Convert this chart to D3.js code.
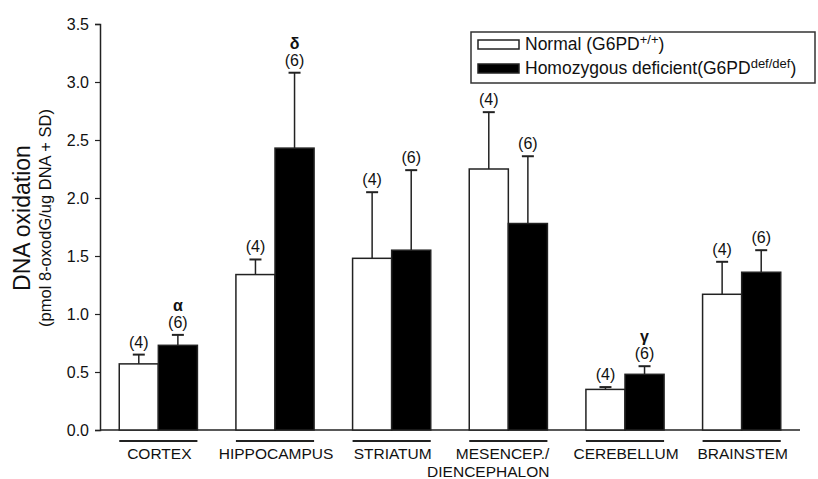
<!DOCTYPE html>
<html>
<head>
<meta charset="utf-8">
<script src="https://cdn.jsdelivr.net/npm/d3@7"></script>
<style>
  body { margin: 0; background: #fff; }
  svg text { font-family: "Liberation Sans", Arial, sans-serif; fill: #111; }
</style>
</head>
<body>
<svg id="chart" width="818" height="479"></svg>
<script>
// Data
const regions = ["CORTEX", "HIPPOCAMPUS", "STRIATUM", "MESENCEP./\nDIENCEPHALON", "CEREBELLUM", "BRAINSTEM"];
const normalMean = [0.57, 1.34, 1.48, 2.25, 0.35, 1.17];
const normalSD   = [0.08, 0.13, 0.57, 0.49, 0.02, 0.28];
const defMean    = [0.73, 2.43, 1.55, 1.78, 0.48, 1.36];
const defSD      = [0.09, 0.65, 0.69, 0.58, 0.07, 0.19];
const normalN    = ["(4)", "(4)", "(4)", "(4)", "(4)", "(4)"];
const defN       = ["(6)", "(6)", "(6)", "(6)", "(6)", "(6)"];
const signif     = ["α", "δ", "", "", "γ", ""];
const yTicks     = [0, 0.5, 1.0, 1.5, 2.0, 2.5, 3.0, 3.5];

const svg = d3.select("#chart");
const plotLeft = 100, plotRight = 800, plotTop = 24, plotBottom = 430;

const x = d3.scaleBand().domain(regions).range([plotLeft, plotRight])
    .paddingInner(0.33).paddingOuter(0.165);
const xs = d3.scaleBand().domain(["normal", "def"]).range([0, x.bandwidth()]);
const y = d3.scaleLinear().domain([0, 3.5]).range([plotBottom, plotTop]);

// y axis
const yAxis = svg.append("g")
    .attr("transform", `translate(${plotLeft},0)`)
    .call(d3.axisLeft(y).tickValues(yTicks).tickFormat(d3.format(".1f")).tickSizeOuter(0).tickSize(5));
yAxis.select(".domain").attr("stroke", "#222").attr("stroke-width", 1.5);
yAxis.selectAll(".tick line").attr("stroke", "#222").attr("stroke-width", 1.2);
yAxis.selectAll(".tick text")
    .attr("x", -11)
    .style("font-size", "16px")
    .style("font-family", "Liberation Sans, Arial, sans-serif")
    .attr("fill", "#111");

// x baseline
svg.append("line")
    .attr("x1", plotLeft).attr("x2", plotRight)
    .attr("y1", y(0)).attr("y2", y(0))
    .attr("stroke", "#222").attr("stroke-width", 1.5);

// y titles
svg.append("text")
    .attr("transform", "translate(30,218) rotate(-90)")
    .attr("text-anchor", "middle")
    .style("font-size", "23px")
    .text("DNA oxidation");
svg.append("text")
    .attr("transform", "translate(51,218) rotate(-90)")
    .attr("text-anchor", "middle")
    .style("font-size", "16.5px")
    .text("(pmol 8-oxodG/ug DNA + SD)");

// rows for bars
const rows = [];
regions.forEach((r, i) => {
    rows.push({ region: r, key: "normal", mean: normalMean[i], sd: normalSD[i], n: normalN[i], sig: "" });
    rows.push({ region: r, key: "def", mean: defMean[i], sd: defSD[i], n: defN[i], sig: signif[i] });
});

const bx = d => x(d.region) + xs(d.key);
const bw = xs.bandwidth();

// error bars (upper only)
svg.selectAll(".err").data(rows).join("line")
    .attr("x1", d => bx(d) + bw / 2).attr("x2", d => bx(d) + bw / 2)
    .attr("y1", d => y(d.mean)).attr("y2", d => y(d.mean + d.sd))
    .attr("stroke", "#222").attr("stroke-width", 1.5);
svg.selectAll(".cap").data(rows).join("line")
    .attr("x1", d => bx(d) + bw / 2 - 6).attr("x2", d => bx(d) + bw / 2 + 6)
    .attr("y1", d => y(d.mean + d.sd)).attr("y2", d => y(d.mean + d.sd))
    .attr("stroke", "#222").attr("stroke-width", 2);

// bars
svg.selectAll(".bar").data(rows).join("rect")
    .attr("x", bx).attr("width", bw)
    .attr("y", d => y(d.mean)).attr("height", d => y(0) - y(d.mean))
    .attr("fill", d => d.key === "normal" ? "#fff" : "#000")
    .attr("stroke", "#222").attr("stroke-width", 1.5);

// n labels
svg.selectAll(".nlab").data(rows).join("text")
    .attr("x", d => bx(d) + bw / 2)
    .attr("y", d => y(d.mean + d.sd) - 7)
    .attr("text-anchor", "middle")
    .style("font-size", "16px")
    .text(d => d.n);

// significance letters
svg.selectAll(".sig").data(rows.filter(d => d.sig)).join("text")
    .attr("x", d => bx(d) + bw / 2)
    .attr("y", d => y(d.mean + d.sd) - 24)
    .attr("text-anchor", "middle")
    .style("font-size", "16px").style("font-weight", "bold")
    .text(d => d.sig);

// category underlines and labels
regions.forEach(r => {
    const x0 = x(r), x1 = x(r) + x.bandwidth();
    svg.append("line")
        .attr("x1", x0).attr("x2", x1)
        .attr("y1", 441).attr("y2", 441)
        .attr("stroke", "#222").attr("stroke-width", 2.2);
    const lines = r.split("\n");
    const t = svg.append("text")
        .attr("text-anchor", lines.length > 1 ? "end" : "middle")
        .style("font-size", "15.5px");
    lines.forEach((l, k) => {
        t.append("tspan")
            .attr("x", lines.length > 1 ? x1 + 2 : (x0 + x1) / 2 + 1)
            .attr("y", 459 + k * 18)
            .text(l);
    });
});

// legend
const lg = svg.append("g");
lg.append("rect")
    .attr("x", 471).attr("y", 32).attr("width", 344).attr("height", 51)
    .attr("fill", "#fff").attr("stroke", "#333").attr("stroke-width", 1.5);
const legendItems = [
    { fill: "#fff", label: "Normal (G6PD", sup: "+/+", tail: ")" },
    { fill: "#000", label: "Homozygous deficient(G6PD", sup: "def/def", tail: ")" }
];
legendItems.forEach((it, i) => {
    const yy = 40 + i * 24;
    lg.append("rect")
        .attr("x", 478).attr("y", yy).attr("width", 41).attr("height", 9)
        .attr("fill", it.fill).attr("stroke", "#222").attr("stroke-width", 1.5);
    const t = lg.append("text").attr("x", 525).attr("y", yy + 10).style("font-size", "17.5px");
    t.append("tspan").text(it.label);
    t.append("tspan").attr("dy", -6).style("font-size", "13px").text(it.sup);
    t.append("tspan").attr("dy", 6).text(it.tail);
});
</script>
</body>
</html>
